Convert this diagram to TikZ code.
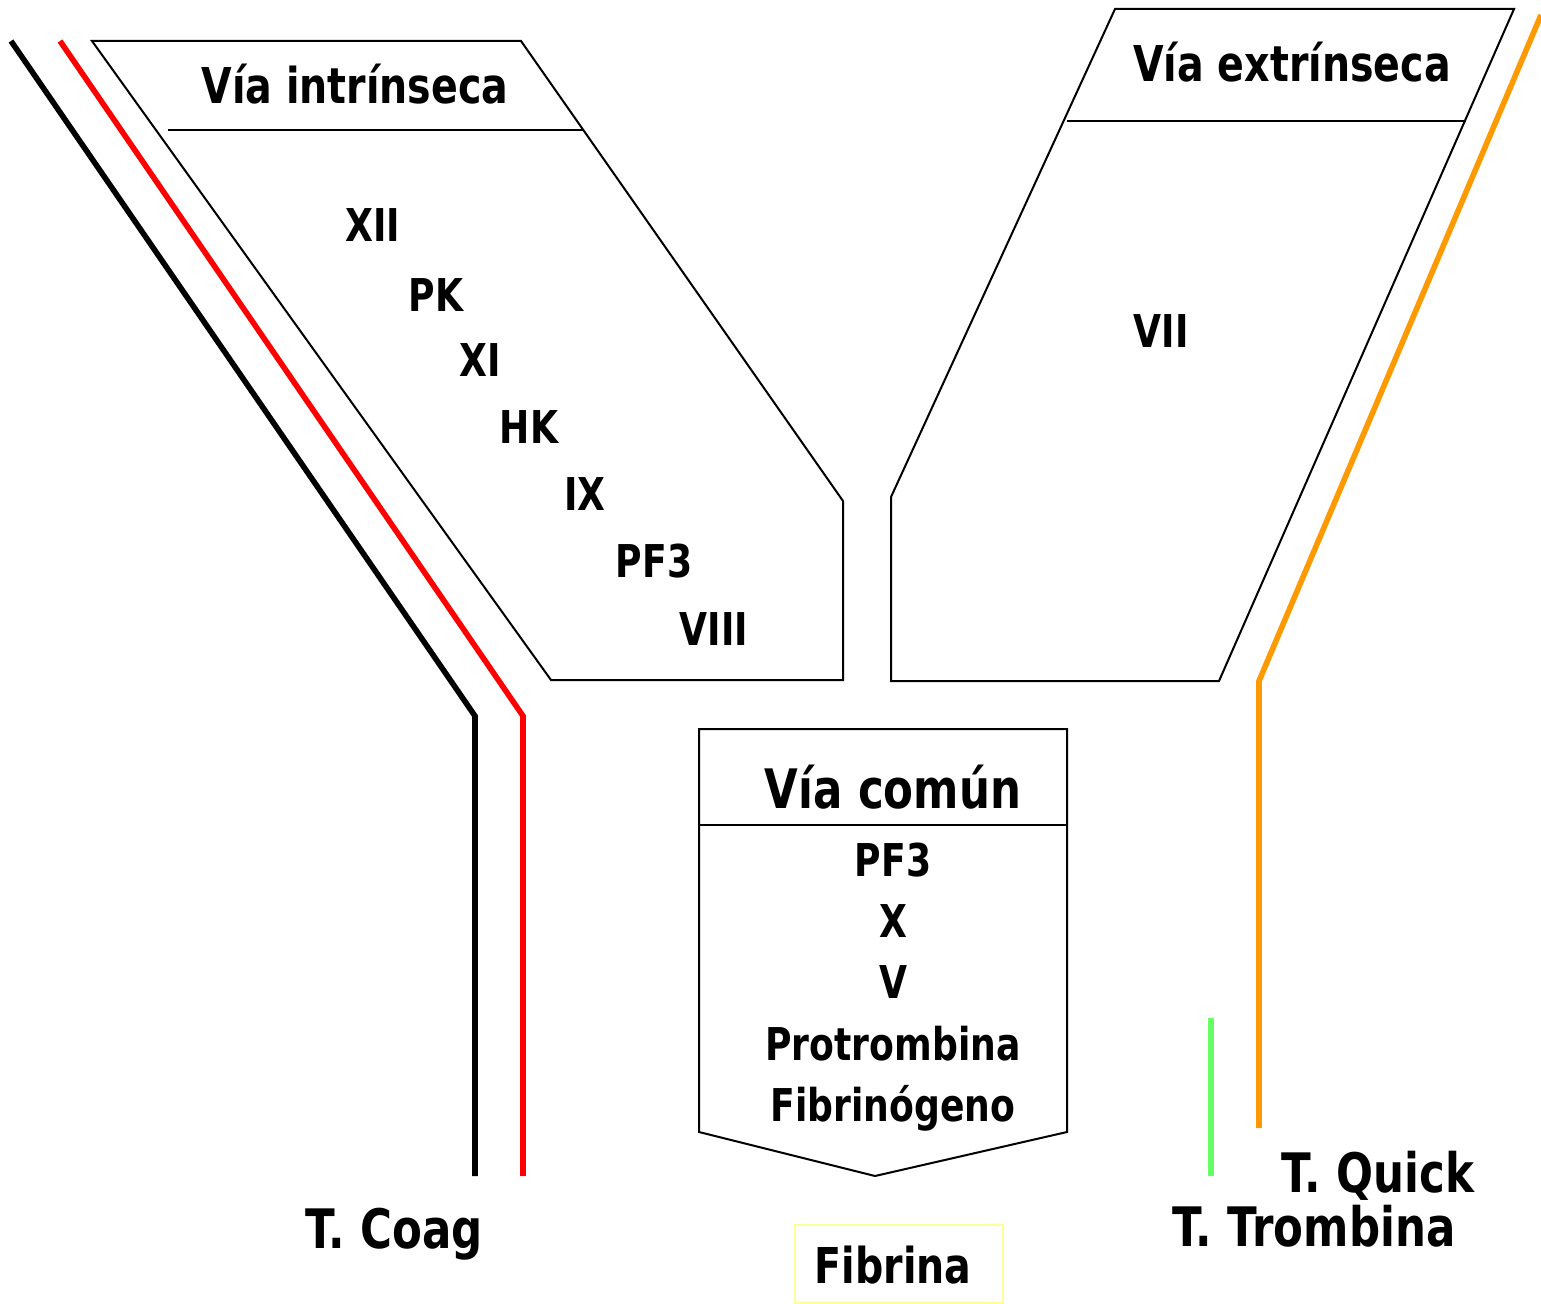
\documentclass[tikz,border=0pt]{standalone}
\usepackage{fontspec}
\setmainfont{DejaVu Sans}[FakeStretch=0.8]
\definecolor{quickorange}{HTML}{FF9900}
\definecolor{trombgreen}{HTML}{66FF66}
\definecolor{fibyellow}{HTML}{FFFF99}
\begin{document}
\begin{tikzpicture}[x=0.5pt,y=-0.5pt,
  outline/.style={draw=black,line width=1pt,line join=miter},
  testline/.style={line width=2.8pt},
  lbl/.style={inner sep=0pt,anchor=base,font=\fontsize{22.6}{26}\selectfont\bfseries},
  head/.style={inner sep=0pt,anchor=base,font=\fontsize{24.7}{28}\selectfont\bfseries},
  big/.style={inner sep=0pt,anchor=base,font=\fontsize{27.2}{31}\selectfont\bfseries}]
\useasboundingbox (0,0) rectangle (1541,1304);

% intrinsic pathway box
\draw[outline] (92,41) -- (521,41) -- (843,501) -- (843,680) -- (551,680) -- cycle;
\draw[outline] (168,130) -- (583,130);
% extrinsic pathway box
\draw[outline] (1115,9) -- (1514,9) -- (1219,681) -- (891,681) -- (891,497) -- cycle;
\draw[outline] (1067,121) -- (1466,121);
% common pathway box
\draw[outline] (699,729) -- (1067,729) -- (1067,1132) -- (875,1176) -- (699,1132) -- cycle;
\draw[outline] (699,825) -- (1067,825);
% fibrin frame
\draw[draw=fibyellow,line width=1pt] (795,1225) rectangle (1003,1303);

% headers
\node[head] (hint) at (355,104) {Vía intrínseca};
\node[head] (hext) at (1292,82) {Vía extrínseca};
\node[big]  (hcom) at (893,808) {Vía común};

% intrinsic factors
\node[lbl] (xii)  at (373,242) {XII};
\node[lbl] (pk)   at (436,312) {PK};
\node[lbl] (xi)   at (480,377) {XI};
\node[lbl] (hk)   at (529,444) {HK};
\node[lbl] (ix)   at (585,510) {IX};
\node[lbl] (pfi)  at (654,577) {PF3};
\node[lbl] (viii) at (714,645) {VIII};
% extrinsic factor
\node[lbl] (vii)  at (1161,348) {VII};
% common factors
\node[lbl] (pfc)  at (893,876) {PF3};
\node[lbl] (x)    at (893,937) {X};
\node[lbl] (v)    at (893,998) {V};
\node[lbl] (prot) at (893,1060) {Protrombina};
\node[lbl] (fibg) at (893,1121) {Fibrinógeno};
\node[head] (fib) at (893,1283) {Fibrina};

% test labels
\node[big] (tcoag)  at (394,1248) {T. Coag};
\node[big] (tquick) at (1378,1192) {T. Quick};
\node[big] (ttromb) at (1314,1246) {T. Trombina};

% test coverage lines
\coordinate (ka) at (11,41);   \coordinate (kb) at (475,716); \coordinate (kc) at (475,1176);
\coordinate (ra) at (60,41);   \coordinate (rb) at (523,716); \coordinate (rc) at (523,1176);
\coordinate (oa) at (1541,15); \coordinate (ob) at (1259,681); \coordinate (oc) at (1259,1128);
\coordinate (ga) at (1211,1018); \coordinate (gb) at (1211,1176);
\draw[testline,black] (ka) -- (kb) -- (kc);
\draw[testline,red] (ra) -- (rb) -- (rc);
\draw[testline,quickorange] (oa) -- (ob) -- (oc);
\draw[testline,trombgreen] (ga) -- (gb);
\end{tikzpicture}
\end{document}
